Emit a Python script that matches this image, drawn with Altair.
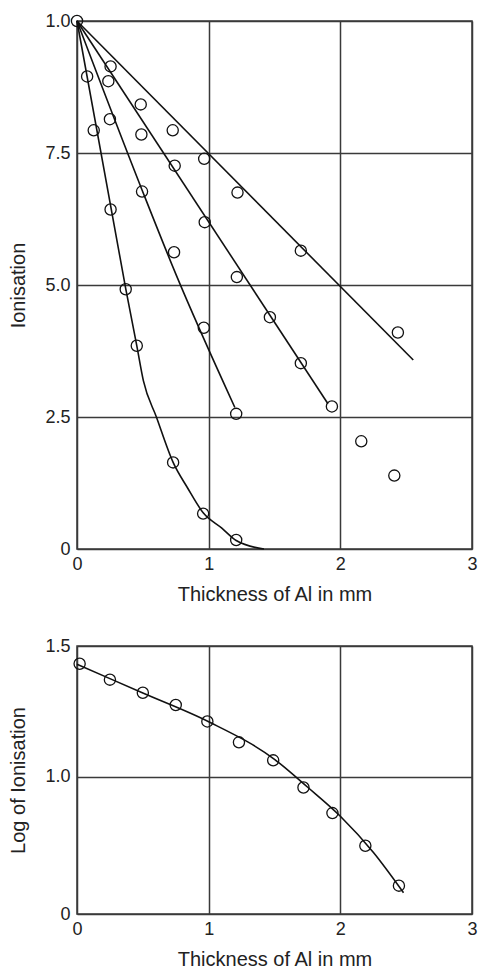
import altair as alt
import pandas as pd

# ---------------- data ----------------
A_x = [0, 0.255, 0.484, 0.727, 0.966, 1.219, 1.70, 2.437]
A_y = [10, 9.14, 8.42, 7.93, 7.39, 6.75, 5.65, 4.10]
B_x = [0.238, 0.489, 0.742, 0.970, 1.214, 1.465, 1.70, 1.936, 2.159, 2.41]
B_y = [8.86, 7.85, 7.26, 6.19, 5.15, 4.39, 3.52, 2.70, 2.04, 1.39]
C_x = [0.25, 0.494, 0.737, 0.963, 1.209]
C_y = [8.14, 6.77, 5.62, 4.19, 2.56]
D_x = [0.077, 0.127, 0.255, 0.37, 0.454, 0.73, 0.958, 1.209]
D_y = [8.95, 7.93, 6.43, 4.92, 3.85, 1.64, 0.67, 0.17]

A_line_x = [0, 2.554]
A_line_y = [10, 3.58]
B_line_x = [0, 1.906]
B_line_y = [10, 2.75]
C_line_x = [0, 0.494, 0.75, 1.199]
C_line_y = [10, 6.80, 5.21, 2.68]
D_line_x = [0, 0.37, 0.454, 0.504, 0.603, 0.73, 0.839, 0.96, 1.10, 1.209, 1.42]
D_line_y = [10, 4.93, 3.85, 3.19, 2.50, 1.64, 1.16, 0.68, 0.395, 0.16, 0.0]

log_x = [0.02, 0.25, 0.50, 0.75, 0.99, 1.23, 1.49, 1.72, 1.94, 2.19, 2.445]
log_y = [1.432, 1.371, 1.321, 1.274, 1.211, 1.131, 1.062, 0.958, 0.86, 0.735, 0.582]
log_line_x = [0, 0.5, 1.0, 1.5, 1.75, 2.0, 2.25, 2.48]
log_line_y = [1.43, 1.32, 1.21, 1.066, 0.96, 0.848, 0.71, 0.555]

x_ticks = [0, 1, 2, 3]
top_y_ticks = [0, 2.5, 5, 7.5, 10]
bot_y_min = 0.4735
bot_y_ticks = [bot_y_min, 1.0, 1.5]

def long(series):
    rows = []
    for name, xs, ys in series:
        for x, y in zip(xs, ys):
            rows.append({"series": name, "x": x, "y": y})
    return pd.DataFrame(rows)

top_pts = long([("A", A_x, A_y), ("B", B_x, B_y), ("C", C_x, C_y), ("D", D_x, D_y)])
top_lines = long([("A", A_line_x, A_line_y), ("B", B_line_x, B_line_y),
                  ("C", C_line_x, C_line_y), ("D", D_line_x, D_line_y)])
bot_pts = pd.DataFrame({"x": log_x, "y": log_y})
bot_line = pd.DataFrame({"x": log_line_x, "y": log_line_y})

FONT = "Liberation Sans"
INK = "#222222"
GRID = "#3a3a3a"

def x_enc():
    return alt.X("x:Q", scale=alt.Scale(domain=[0, 3], nice=False, zero=False),
                 axis=alt.Axis(values=x_ticks, title="Thickness of Al in mm", grid=True,
                               ticks=False, tickSize=0, domain=False, labelPadding=6,
                               titlePadding=11, labelFlush=False, format="d"))

top_y = alt.Y("y:Q", scale=alt.Scale(domain=[0, 10], nice=False),
              axis=alt.Axis(values=top_y_ticks, title="Ionisation", grid=True, ticks=False,
                            tickSize=0, domain=False, labelPadding=7, titlePadding=16,
                            labelFlush=False,
                            labelExpr="datum.value == 10 ? '1.0' : (datum.value == 0 ? '0' : format(datum.value, '.1f'))"))

top_line_layer = alt.Chart(top_lines).mark_line(color="#111111", strokeWidth=1.6, interpolate="monotone").encode(
    x=x_enc(), y=top_y, detail="series:N")
top_pt_layer = alt.Chart(top_pts).mark_point(shape="circle", filled=False, color="#111111", size=125,
                                            strokeWidth=1.3, opacity=1).encode(
    x=x_enc(), y=top_y, detail="series:N")
top = alt.layer(top_line_layer, top_pt_layer).properties(width=395, height=528)

bot_y = alt.Y("y:Q", scale=alt.Scale(domain=[bot_y_min, 1.5], nice=False, zero=False),
              axis=alt.Axis(values=bot_y_ticks, title="Log of Ionisation", grid=True, ticks=False,
                            tickSize=0, domain=False, labelPadding=7, titlePadding=16,
                            labelFlush=False,
                            labelExpr="datum.value < 0.9 ? '0' : format(datum.value, '.1f')"))

bot_line_layer = alt.Chart(bot_line).mark_line(color="#111111", strokeWidth=1.6, interpolate="monotone").encode(
    x=x_enc(), y=bot_y)
bot_pt_layer = alt.Chart(bot_pts).mark_point(shape="circle", filled=False, color="#111111", size=125,
                                            strokeWidth=1.3, opacity=1).encode(x=x_enc(), y=bot_y)
bottom = alt.layer(bot_line_layer, bot_pt_layer).properties(width=395, height=268)

chart = alt.vconcat(top, bottom, spacing=31).properties(
    padding={"left": 0, "top": 3, "right": 0, "bottom": 0}
).configure_view(stroke=GRID, strokeWidth=1.5).configure_axis(
    labelFont=FONT, titleFont=FONT, labelFontSize=18, titleFontSize=20,
    labelColor=INK, titleColor=INK, labelFontWeight="normal", titleFontWeight="normal",
    gridColor=GRID, gridWidth=1.5, gridOpacity=1
)

chart.save("out.html", embed_options={"renderer": "svg", "actions": False})
